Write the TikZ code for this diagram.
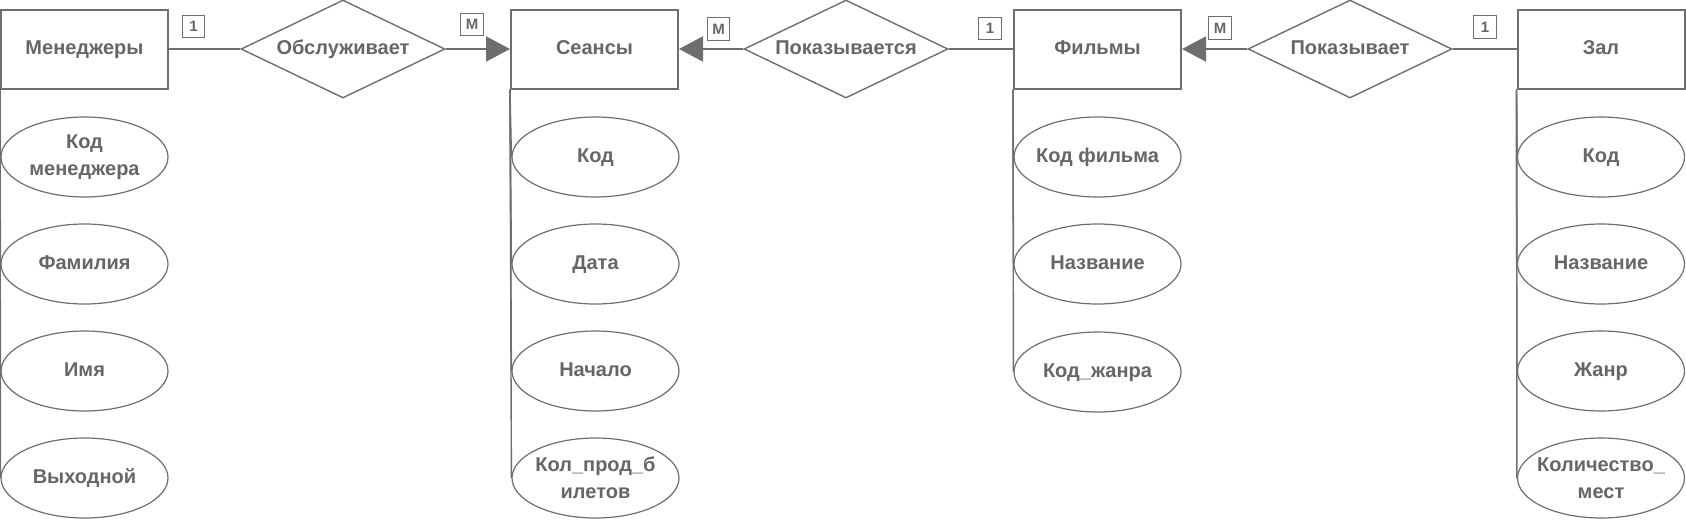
\documentclass[tikz,border=0pt]{standalone}
\usepackage{fontspec}
\setmainfont{Liberation Sans}
\usetikzlibrary{shapes.geometric,arrows.meta}
\definecolor{ln}{RGB}{110,110,110}
\definecolor{tx}{RGB}{102,102,102}
\begin{document}
\begin{tikzpicture}[x=0.5pt,y=-0.5pt,
 entity/.style={draw=ln, line width=1pt, minimum width=83.5pt, minimum height=39.5pt, inner sep=0pt, text=tx, font=\fontsize{10}{12}\selectfont\bfseries, text height=7.4pt, text depth=2.3pt},
 rel/.style={diamond, draw=ln, line width=0.7pt, aspect=2.08, minimum width=102pt, minimum height=49pt, inner sep=0pt, text=tx, font=\fontsize{10}{12}\selectfont\bfseries, text height=7.4pt, text depth=2.3pt},
 attr/.style={ellipse, draw=ln, line width=0.6pt, minimum width=83.5pt, minimum height=40pt, inner sep=0pt},
 atext/.style={text=tx, font=\fontsize{10}{13.5}\selectfont\bfseries, inner sep=0pt, text height=7.4pt, text depth=2.3pt},
 mtext/.style={text=tx, font=\fontsize{10}{13.5}\selectfont\bfseries, align=center, inner sep=0pt},
 card/.style={draw=ln, line width=0.6pt, minimum size=11.2pt, inner sep=0pt, text=tx, font=\fontsize{7.5}{8}\selectfont\bfseries},
 conn/.style={draw=ln, line width=1pt},
 arr/.style={-{Triangle[length=12pt,width=12.5pt]}, fill=ln},
 att/.style={draw=ln, line width=0.7pt}
]
\useasboundingbox (0,0) rectangle (1686,520);

% entities
\node[entity] (m) at (84.5,49) {Менеджеры};
\node[entity] (s) at (594.5,49) {Сеансы};
\node[entity] (f) at (1097.5,49) {Фильмы};
\node[entity] (z) at (1601,49) {Зал};

% relationships
\node[rel] (r1) at (343,49) {Обслуживает};
\node[rel] (r2) at (846,49) {Показывается};
\node[rel] (r3) at (1350,49) {Показывает};

% attributes: Менеджеры
\node[attr, label={[mtext]center:{Код\\менеджера}}] (m1) at (84.5,157) {};
\node[attr, label={[atext]center:{Фамилия}}] (m2) at (84.5,264) {};
\node[attr, label={[atext]center:{Имя}}] (m3) at (84.5,371) {};
\node[attr, label={[atext]center:{Выходной}}] (m4) at (84.5,478) {};

% attributes: Сеансы
\node[attr, label={[atext]center:{Код}}] (s1) at (595.5,157) {};
\node[attr, label={[atext]center:{Дата}}] (s2) at (595.5,264) {};
\node[attr, label={[atext]center:{Начало}}] (s3) at (595.5,371) {};
\node[attr, label={[mtext]center:{Кол\_прод\_б\\илетов}}] (s4) at (595.5,478) {};

% attributes: Фильмы
\node[attr, label={[atext]center:{Код фильма}}] (f1) at (1097.5,157) {};
\node[attr, label={[atext]center:{Название}}] (f2) at (1097.5,264) {};
\node[attr, label={[atext]center:{Код\_жанра}}] (f3) at (1097.5,372) {};

% attributes: Зал
\node[attr, label={[atext]center:{Код}}] (z1) at (1601,157) {};
\node[attr, label={[atext]center:{Название}}] (z2) at (1601,264) {};
\node[attr, label={[atext]center:{Жанр}}] (z3) at (1601,371) {};
\node[attr, label={[mtext]center:{Количество\_\\мест}}] (z4) at (1601,478) {};

% entity-attribute lines
\foreach \e/\a in {m/m1,m/m2,m/m3,m/m4,s/s1,s/s2,s/s3,s/s4,f/f1,f/f2,f/f3,z/z1,z/z2,z/z3,z/z4}
  \draw[att] (\e.south west) -- (\a.west);

% relationship connectors
\draw[conn] (m.east) -- (r1.west);
\draw[conn, arr] (r1.east) -- (s.west);
\draw[conn, arr] (r2.west) -- (s.east);
\draw[conn] (r2.east) -- (f.west);
\draw[conn, arr] (r3.west) -- (f.east);
\draw[conn] (r3.east) -- (z.west);

% cardinalities
\node[card] (c1) at (193.5,26.5) {1};
\node[card] (c2) at (472,24.5) {М};
\node[card] (c3) at (718.5,29) {М};
\node[card] (c4) at (990,28.5) {1};
\node[card] (c5) at (1220,28) {М};
\node[card] (c6) at (1485,27) {1};
\end{tikzpicture}
\end{document}
